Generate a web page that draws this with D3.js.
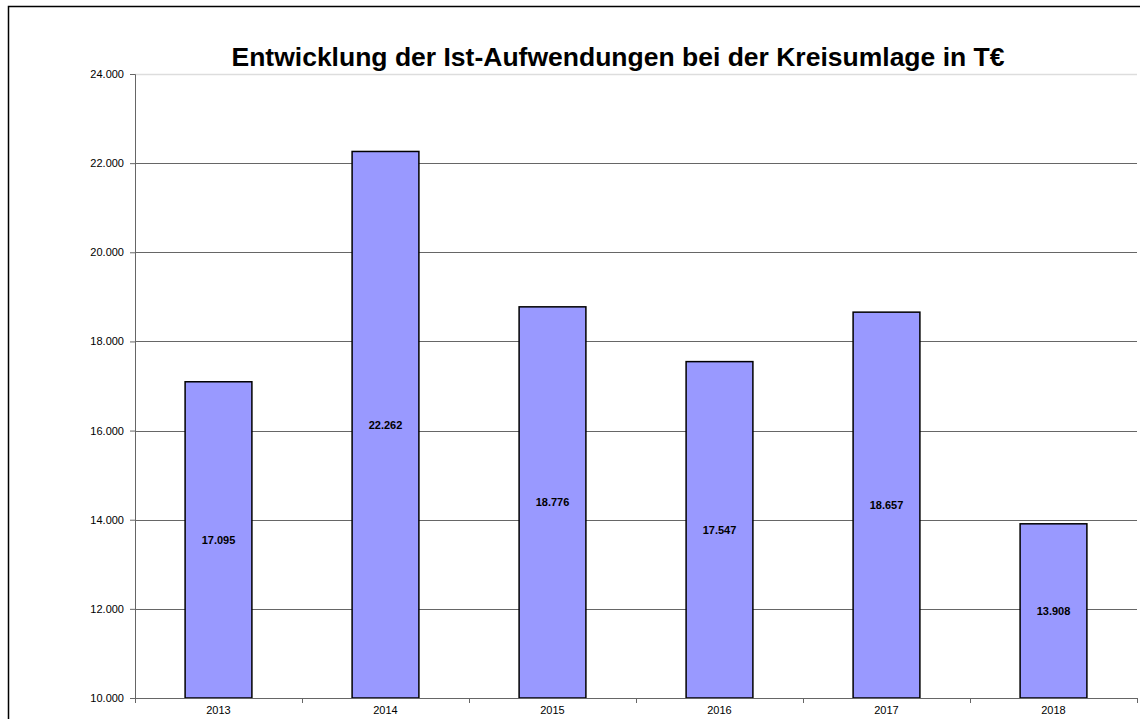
<!DOCTYPE html>
<html lang="de">
<head>
  <meta charset="utf-8">
  <title>Kreisumlage</title>
  <script src="https://cdn.jsdelivr.net/npm/d3@7"></script>
  <style>
    body { margin: 0; background: #fff; }
    text { font-family: "Liberation Sans", Arial, sans-serif; fill: #000; }
  </style>
</head>
<body>
<script>
  var years = ["2013", "2014", "2015", "2016", "2017", "2018"];
  var values = [17095, 22262, 18776, 17547, 18657, 13908];
  var yTicks = [10000, 12000, 14000, 16000, 18000, 20000, 22000, 24000];

  var W = 1140, H = 719;
  var margin = { top: 74, right: 3, bottom: 21, left: 135 };
  var width = W - margin.left - margin.right,
      height = H - margin.top - margin.bottom;

  var fmt = function(v) { return d3.format(",")(v).replace(/,/g, "."); };

  var svg = d3.select("body").append("svg")
    .attr("width", W).attr("height", H);

  // outer frame
  svg.append("rect")
    .attr("x", 8.5).attr("y", 6.5)
    .attr("width", W + 20).attr("height", H + 20)
    .attr("fill", "none").attr("stroke", "#000").attr("stroke-width", 1.5);

  svg.append("text")
    .attr("x", 618).attr("y", 66)
    .attr("text-anchor", "middle")
    .style("font-size", "26.5px").style("font-weight", "bold")
    .text("Entwicklung der Ist-Aufwendungen bei der Kreisumlage in T€");

  var g = svg.append("g")
    .attr("transform", "translate(" + margin.left + "," + margin.top + ")");

  var x = d3.scaleBand().domain(years).range([0, width]).paddingInner(0.6).paddingOuter(0.3);
  var xCat = d3.scaleBand().domain(years).range([0, width]);
  var y = d3.scaleLinear().domain([10000, 24000]).range([height, 0]);

  // gridlines
  g.selectAll(".grid").data(yTicks.slice(1)).enter().append("line")
    .attr("x1", 0).attr("x2", width)
    .attr("y1", function(d) { return Math.round(y(d)) + 0.5; })
    .attr("y2", function(d) { return Math.round(y(d)) + 0.5; })
    .attr("stroke", function(d) { return d === 24000 ? "#dddddd" : "#666"; })
    .attr("stroke-width", function(d) { return d === 24000 ? 1.5 : 1; });

  // bars
  g.selectAll(".bar").data(values).enter().append("rect")
    .attr("x", function(d, i) { return x(years[i]); })
    .attr("width", x.bandwidth())
    .attr("y", function(d) { return y(d); })
    .attr("height", function(d) { return height - y(d); })
    .attr("fill", "#9999ff").attr("stroke", "#000").attr("stroke-width", 1.5);

  g.selectAll(".lbl").data(values).enter().append("text")
    .attr("x", function(d, i) { return x(years[i]) + x.bandwidth() / 2; })
    .attr("y", function(d) { return (y(d) + height) / 2; })
    .attr("dy", "0.35em")
    .attr("text-anchor", "middle")
    .style("font-size", "11px").style("font-weight", "bold")
    .text(function(d) { return fmt(d); });

  // y axis
  var yAxis = d3.axisLeft(y).tickValues(yTicks).tickSize(5).tickPadding(6)
    .tickFormat(fmt);
  var ya = g.append("g").call(yAxis);
  ya.select(".domain").attr("stroke", "#666");
  ya.selectAll(".tick line").attr("stroke", "#666");
  ya.selectAll("text").style("font-size", "11px").style("font-family", "'Liberation Sans', Arial, sans-serif");

  // x axis
  var xa = g.append("g").attr("transform", "translate(0," + height + ")");
  xa.append("line").attr("x1", 0).attr("x2", width).attr("y1", 0.5).attr("y2", 0.5).attr("stroke", "#666");
  xa.selectAll(".tk").data(years.concat(["end"])).enter().append("line")
    .attr("x1", function(d, i) { return Math.round(i * xCat.step()) + 0.5; })
    .attr("x2", function(d, i) { return Math.round(i * xCat.step()) + 0.5; })
    .attr("y1", 0).attr("y2", 5).attr("stroke", "#666");
  xa.selectAll(".xl").data(years).enter().append("text")
    .attr("x", function(d) { return xCat(d) + xCat.bandwidth() / 2; })
    .attr("y", 16)
    .attr("text-anchor", "middle")
    .style("font-size", "11px")
    .text(function(d) { return d; });
</script>
</body>
</html>
